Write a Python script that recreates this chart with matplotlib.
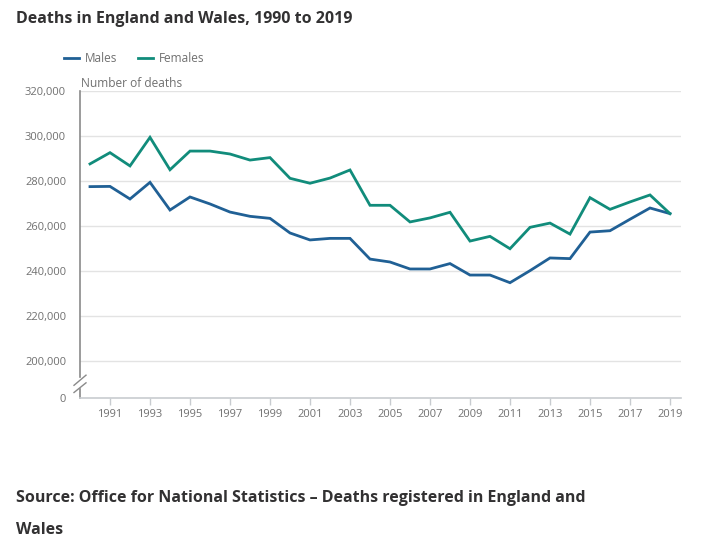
import numpy as np
import matplotlib.pyplot as plt
from matplotlib.lines import Line2D

plt.rcParams['font.family'] = ['Open Sans', 'DejaVu Sans']

years = list(range(1990, 2020))
males = [277500, 277600, 272000, 279400, 267100, 272900, 269800, 266200, 264300, 263400,
         256900, 253800, 254500, 254500, 245300, 244000, 240900, 240900, 243300, 238200,
         238200, 234800, 240150, 245800, 245500, 257300, 257900, 263000, 268000, 265500]
females = [287600, 292600, 286700, 299400, 285000, 293300, 293300, 292000, 289300, 290400,
           281200, 279000, 281300, 284900, 269200, 269200, 261800, 263600, 266100, 253300,
           255400, 249900, 259400, 261300, 256400, 272600, 267400, 270700, 273800, 265500]
ytick_vals = [200000, 220000, 240000, 260000, 280000, 300000, 320000]
xtick_years = list(range(1991, 2020, 2))

MALE_C = '#206095'
FEMALE_C = '#118c7b'
GREY = '#707070'

fig = plt.figure(figsize=(7.21, 5.45), dpi=100)
ax = fig.add_axes([80 / 721, 1 - 398 / 545, 601 / 721, 307 / 545])

# the "0" sits below a broken axis, 37px under 200,000 (45px per 20,000)
zero_pos = 200000 - 37 / 45 * 20000

ax.plot(years, males, color=MALE_C, lw=2, solid_joinstyle='miter')
ax.plot(years, females, color=FEMALE_C, lw=2, solid_joinstyle='miter')

ax.set_xlim(1989.5, 2019.55)
ax.set_ylim(zero_pos, 320000)

ax.set_yticks([zero_pos] + ytick_vals)
ax.set_yticklabels(['0'] + [f'{v:,}' for v in ytick_vals])
for v in ytick_vals:
    ax.axhline(v, color='#e3e3e3', lw=1, zorder=0)

ax.set_xticks(xtick_years)
ax.set_xticklabels([str(y) for y in xtick_years])

ax.tick_params(axis='y', length=0, pad=10, labelsize=8, labelcolor=GREY)
ax.tick_params(axis='x', length=5, width=1, color='#c8ccd0', pad=3, labelsize=8, labelcolor=GREY)

for s in ['top', 'right', 'left']:
    ax.spines[s].set_visible(False)
ax.spines['bottom'].set_color('#c8ccd0')
ax.spines['bottom'].set_linewidth(1.2)

# left spine with a break
trans = ax.get_yaxis_transform()
ax.add_line(Line2D([0, 0], [193000, 320000], transform=trans, color='#8a8a8a', lw=1.2, clip_on=False))
ax.add_line(Line2D([0, 0], [zero_pos, 187500], transform=trans, color='#8a8a8a', lw=1.2, clip_on=False))
dx = 6 / 601
ax.add_line(Line2D([-dx, dx], [189200, 193700], transform=trans, color='#8a8a8a', lw=1, clip_on=False))
ax.add_line(Line2D([-dx, dx], [186000, 190300], transform=trans, color='#8a8a8a', lw=1, clip_on=False))

fig.text(16 / 721, 1 - 19 / 545, 'Deaths in England and Wales, 1990 to 2019',
         fontsize=11.5, fontweight='bold', color='#323132', va='center')
fig.text(81 / 721, 1 - 83 / 545, 'Number of deaths', fontsize=8.6, color=GREY, va='center')

# legend
fig.add_artist(Line2D([64 / 721, 79 / 721], [1 - 58 / 545] * 2, color=MALE_C, lw=2))
fig.text(85 / 721, 1 - 58 / 545, 'Males', fontsize=8.5, color=GREY, va='center')
fig.add_artist(Line2D([138 / 721, 153 / 721], [1 - 58 / 545] * 2, color=FEMALE_C, lw=2))
fig.text(159 / 721, 1 - 58 / 545, 'Females', fontsize=8.5, color=GREY, va='center')

fig.text(16 / 721, 1 - 498 / 545, 'Source: Office for National Statistics \u2013 Deaths registered in England and',
         fontsize=11.5, fontweight='bold', color='#323132', va='center')
fig.text(16 / 721, 1 - 530 / 545, 'Wales', fontsize=11.5, fontweight='bold', color='#323132', va='center')

fig.savefig('out.png', dpi=100)
